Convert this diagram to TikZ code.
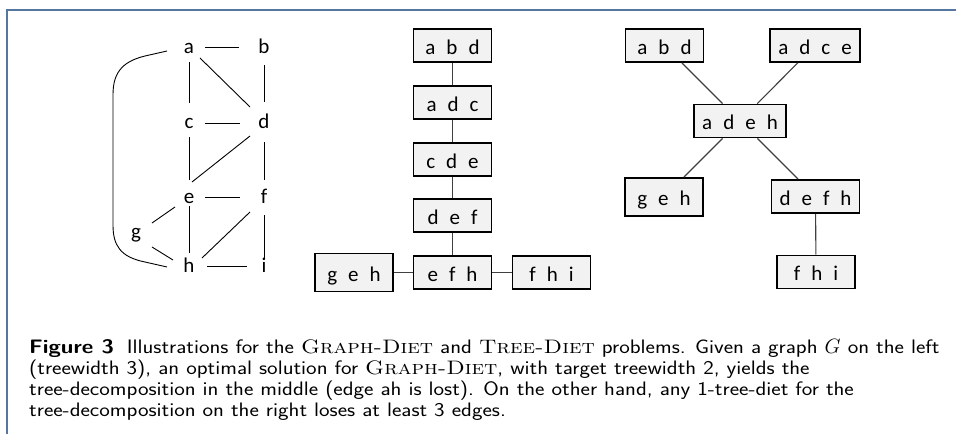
\documentclass[tikz,border=0pt]{standalone}
\usepackage{fontspec}
\usetikzlibrary{calc}
\newfontfamily\carlito{Carlito}
\newfontfamily\capsf[FakeStretch=1.15]{Latin Modern Sans}
\newfontfamily\caprmsc[FakeStretch=1.15]{Latin Modern Roman Caps}
\definecolor{framecol}{RGB}{84,118,160}
\definecolor{boxfill}{HTML}{F2F2F2}
\newcommand\bsep{\hspace{11pt}}
\newcommand\probname[1]{{\caprmsc #1}}
\tikzset{
  gv/.style={font=\carlito\fontsize{21}{21}\selectfont, inner sep=0pt, anchor=base},
  bag/.style={draw=black, line width=1.8pt, fill=boxfill,
    font=\carlito\fontsize{21}{21}\selectfont, minimum width=78pt, minimum height=33pt,
    inner xsep=8pt, inner ysep=0pt, text height=19pt, text depth=2pt},
  tallbag/.style={bag, minimum height=38pt},
  gedge/.style={line width=0.9pt, draw=black},
  tedge/.style={line width=1.1pt, draw=black!75},
  capline/.style={anchor=base west, inner sep=0pt, font=\capsf\fontsize{19.5}{21}\selectfont},
}
\begin{document}
\begin{tikzpicture}[x=1pt,y=-1pt]
\useasboundingbox (0,0) rectangle (956,434);
% frame
\draw[framecol, line width=2pt] (7,434) -- (7,10) -- (956,10);

% graph G
\node[gv] (a) at (189,53.5) {a};
\node[gv] (b) at (264,53.5) {b};
\node[gv] (c) at (189,128) {c};
\node[gv] (d) at (264,128) {d};
\node[gv] (e) at (189,203) {e};
\node[gv] (f) at (264,203) {f};
\node[gv] (g) at (136,238) {g};
\node[gv] (h) at (189,272) {h};
\node[gv] (i) at (264,272) {i};

\draw[gedge] ($(a.base)+(16,-6.5)$) -- ($(b.base)+(-25,-6.5)$);
\draw[gedge] ($(a.base)+(0,8.5)$) -- ($(c.base)+(0,-25)$);
\draw[gedge] ($(a.base)+(11,4.5)$) -- ($(d.base)+(-14,-21)$);
\draw[gedge] ($(b.base)+(0,11.5)$) -- ($(d.base)+(0,-26)$);
\draw[gedge] ($(c.base)+(16,-5)$) -- ($(d.base)+(-24,-5)$);
\draw[gedge] ($(c.base)+(0,9)$) -- ($(e.base)+(0,-23)$);
\draw[gedge] ($(d.base)+(-14,8)$) -- ($(e.base)+(3,-21)$);
\draw[gedge] ($(d.base)+(0,14)$) -- ($(f.base)+(0,-23)$);
\draw[gedge] ($(e.base)+(16,-6)$) -- ($(f.base)+(-24,-6)$);
\draw[gedge] ($(e.base)+(-14,4)$) -- ($(g.base)+(16,-15)$);
\draw[gedge] ($(e.base)+(0,3)$) -- ($(h.base)+(0,-19)$);
\draw[gedge] ($(f.base)+(-14,9)$) -- ($(h.base)+(13,-14)$);
\draw[gedge] ($(f.base)+(0,12)$) -- ($(i.base)+(0,-14)$);
\draw[gedge] ($(g.base)+(16,9)$) -- ($(h.base)+(-16,-12)$);
\draw[gedge] ($(h.base)+(18,-6)$) -- ($(i.base)+(-17,-6)$);
\draw[gedge] ($(a.base)+(-22,-2.5)$) -- (145,56) .. controls (120,62) and (113,75) .. (113,95)
  -- (113,225) .. controls (113,245) and (120,257) .. (145,262) -- ($(h.base)+(-22,-5)$);

% middle tree decomposition
\node[bag] (m1) at (452.5,45.5) {a\bsep b\bsep d};
\node[bag] (m2) at (452.5,102.5) {a\bsep d\bsep c};
\node[bag] (m3) at (452.5,159.5) {c\bsep d\bsep e};
\node[bag] (m4) at (452.5,215.5) {d\bsep e\bsep f};
\node[bag] (m5) at (452.5,272.5) {e\bsep f\bsep h};
\node[tallbag] (m6) at (354,272.5) {g\bsep e\bsep h};
\node[bag] (m7) at (551.5,272.5) {f\bsep h\bsep i};
\draw[tedge] (m1) -- (m2);
\draw[tedge] (m2) -- (m3);
\draw[tedge] (m3) -- (m4);
\draw[tedge] (m4) -- (m5);
\draw[tedge] (m6) -- (m5);
\draw[tedge] (m5) -- (m7);

% right tree decomposition
\node[bag] (r1) at (664.5,45.5) {a\bsep b\bsep d};
\node[bag] (r2) at (815,45.5) {a\bsep d\bsep c\bsep e};
\node[bag] (r3) at (740,121) {a\bsep d\bsep e\bsep h};
\node[tallbag] (r4) at (664,197) {g\bsep e\bsep h};
\node[bag] (r5) at (815.5,196.5) {d\bsep e\bsep f\bsep h};
\node[bag] (r6) at (816,272) {f\bsep h\bsep i};
\draw[tedge] (r1) -- (r3);
\draw[tedge] (r2) -- (r3);
\draw[tedge] (r3) -- (r4);
\draw[tedge] (r3) -- (r5);
\draw[tedge] (r5) -- (r6);

% caption
\node[capline] (l1) at (29,353) {\textbf{Figure 3}\hspace{0.3em} Illustrations for the \probname{Graph-Diet} and \probname{Tree-Diet} problems. Given a graph $G$ on the left};
\node[capline] (l2) at (29,374) {(treewidth 3), an optimal solution for \probname{Graph-Diet}, with target treewidth 2, yields the};
\node[capline] (l3) at (29,395) {tree-decomposition in the middle (edge ah is lost). On the other hand, any 1-tree-diet for the};
\node[capline] (l4) at (29,416) {tree-decomposition on the right loses at least 3 edges.};
\end{tikzpicture}
\end{document}
